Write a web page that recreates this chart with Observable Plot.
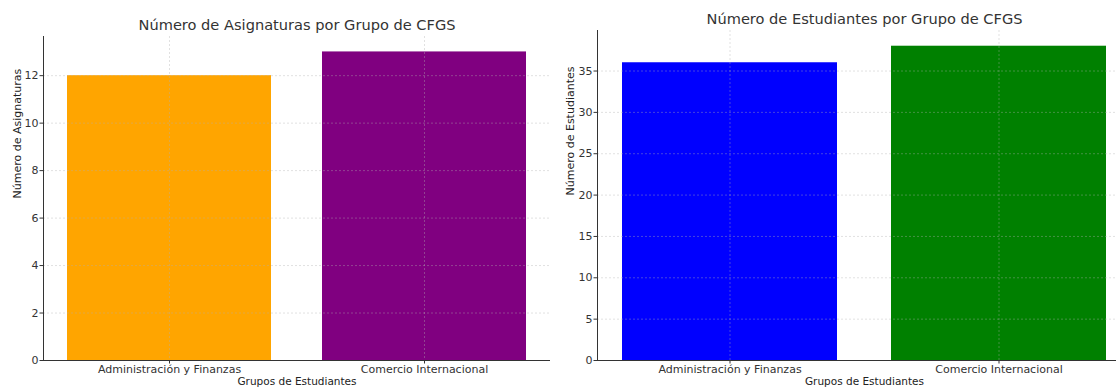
<!DOCTYPE html>
<html>
<head>
<meta charset="utf-8">
<script src="https://cdn.jsdelivr.net/npm/d3@7"></script>
<script src="https://cdn.jsdelivr.net/npm/@observablehq/plot@0.6"></script>
<style>
  html, body { margin: 0; padding: 0; background: white; overflow: hidden; width: 1116px; height: 387px; }
  #wrap { position: relative; width: 1116px; height: 387px; overflow: hidden; }
  .panel { position: absolute; top: 0; }
</style>
</head>
<body>
<div id="wrap">
  <div class="panel" id="left" style="left:0px;width:556px;"></div>
  <div class="panel" id="right" style="left:556px;width:575px;"></div>
</div>
<script>
const categories = ["Administración y Finanzas", "Comercio Internacional"];
const asignaturas = [12, 13];
const estudiantes = [36, 38];
const coloresAsignaturas = ["#FFA500", "#800080"];
const coloresEstudiantes = ["#0000FF", "#008000"];
const ticksAsignaturas = [0, 2, 4, 6, 8, 10, 12];
const ticksEstudiantes = [0, 5, 10, 15, 20, 25, 30, 35];
const titles = ["Número de Asignaturas por Grupo de CFGS", "Número de Estudiantes por Grupo de CFGS"];
const yLabels = ["Número de Asignaturas", "Número de Estudiantes"];
const xLabel = "Grupos de Estudiantes";

function chart({values, colors, ticks, title, ylabel, width, marginLeft, marginRight, marginTop, paddingOuter, ylabelDx}) {
  const data = categories.map((c, i) => ({cat: c, value: values[i], color: colors[i]}));
  const gridStyle = {stroke: "#b0b0b0", strokeOpacity: 0.55, strokeDasharray: "2,2", strokeWidth: 0.7};
  return Plot.plot({
    width, height: 387,
    marginLeft, marginRight, marginTop, marginBottom: 27,
    style: {fontFamily: "DejaVu Sans", fontSize: "11px", color: "#333", background: "white"},
    x: {type: "band", domain: categories, paddingInner: 0.2, paddingOuter, label: null},
    y: {domain: [0, d3.max(values) * 1.05], label: null},
    color: {type: "identity"},
    marks: [
      Plot.barY(data, {x: "cat", y: "value", fill: "color"}),
      Plot.gridY(ticks, gridStyle),
      Plot.gridX(gridStyle),
      Plot.axisY(ticks, {tickSize: 3.5, tickPadding: 1.5, label: null, fontSize: 11}),
      Plot.axisX({tickSize: 3.5, tickPadding: 1, label: null, fontSize: 11}),
      Plot.ruleY([0], {stroke: "#333", strokeWidth: 1}),
      Plot.frame({anchor: "left", stroke: "#333", strokeWidth: 1}),
      Plot.text([title], {frameAnchor: "top", lineAnchor: "middle", dy: -11, fontSize: 14.6, fill: "#333"}),
      Plot.text([ylabel], {frameAnchor: "left", dx: ylabelDx, rotate: -90, fontSize: 11, fill: "#222"}),
      Plot.text([xLabel], {frameAnchor: "bottom", lineAnchor: "bottom", dy: 24, fontSize: 10.5, fill: "#222"})
    ]
  });
}

document.getElementById("left").append(chart({
  values: asignaturas, colors: coloresAsignaturas, ticks: ticksAsignaturas,
  title: titles[0], ylabel: yLabels[0], width: 556,
  marginLeft: 43, marginRight: 6, marginTop: 36, paddingOuter: 0.094, ylabelDx: -26
}));
document.getElementById("right").append(chart({
  values: estudiantes, colors: coloresEstudiantes, ticks: ticksEstudiantes,
  title: titles[1], ylabel: yLabels[1], width: 575,
  marginLeft: 41, marginRight: 0, marginTop: 30, paddingOuter: 0.089, ylabelDx: -27
}));
</script>
</body>
</html>
